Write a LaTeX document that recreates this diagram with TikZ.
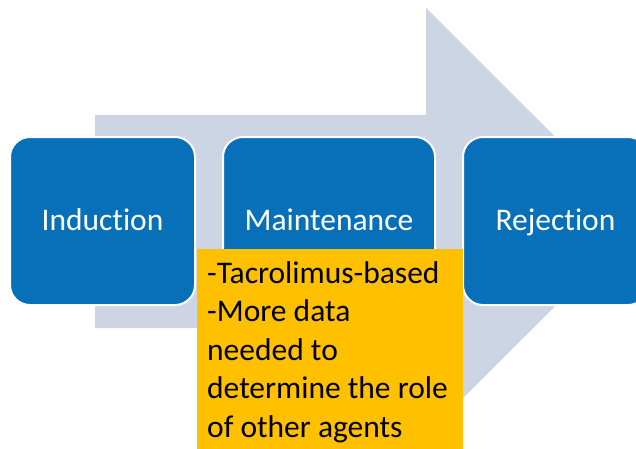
\documentclass[tikz,border=0pt]{standalone}
\usepackage{fontspec}
\setmainfont{Carlito}[Ligatures=NoCommon]
\usepackage{tikz}
\usetikzlibrary{positioning}
\definecolor{stageblue}{RGB}{7,112,184}
\definecolor{arrowgrey}{RGB}{205,213,229}
\definecolor{noteyellow}{RGB}{255,192,0}

\begin{document}
\begin{tikzpicture}[x=1pt,y=-1pt,
  stage/.style={draw=white, line width=2pt, fill=stageblue, rounded corners=20pt,
    minimum height=168pt, text height=25pt, text depth=7pt, text=white,
    font=\fontsize{31.5}{38.5}\selectfont},
  note/.style={fill=noteyellow, anchor=north west, minimum width=266pt, minimum height=205pt}]
\useasboundingbox (0,0) rectangle (636,448);
\clip (0,0) rectangle (636,448);

\fill[arrowgrey] (95,115) -- (426,115) -- (426,8) -- (640,221.5) -- (426,435)
  -- (426,328) -- (95,328) -- cycle;

\node[stage, minimum width=185pt] (induction) at (102.5,221) {Induction};
\node[stage, minimum width=212pt] (maintenance) at (329,221) {Maintenance};
\node[stage, minimum width=185pt] (rejection) at (555.5,221) {Rejection};

\node[note] (notebox) at (197,249) {};
\node[anchor=base west, inner sep=0pt, align=left, font=\fontsize{31.5}{38.5}\selectfont]
  (notetext) at (207,437) {-Tacrolimus-based\\-More data\\needed to\\determine the role\\of other agents};
\end{tikzpicture}
\end{document}
